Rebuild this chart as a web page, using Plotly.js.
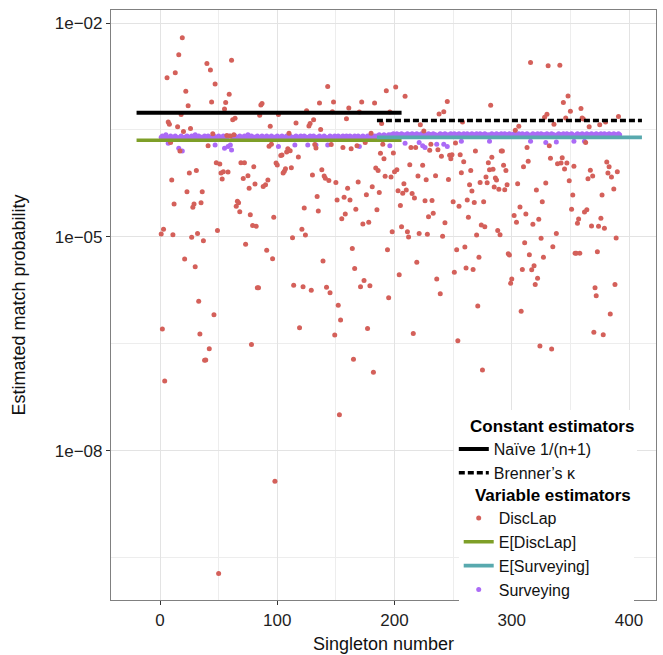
<!DOCTYPE html>
<html>
<head>
<meta charset="utf-8">
<script src="https://cdn.plot.ly/plotly-3.0.1.min.js"></script>
<style>
html, body { margin: 0; padding: 0; background: #ffffff; }
#chart { width: 663px; height: 655px; }
</style>
</head>
<body>
<div id="chart"></div>
<script>
// ---------------- DATA ----------------
// DiscLap estimate per singleton (scattered red points)
const discLapSingleton = [
  19,16,40,43,61,13,6,47,22,59,
  24,44,56,55,18,7,8,62,64,15,
  26,20,45,57,60,63,9,41,17,48,
  51,69,72,31,25,54,52,58,75,10,
  53,71,23,36,76,12,29,28,35,66,
  67,65,153,98,50,
  68,77,3,1,11,27,32,49,37,73,
  21,30,33,46,2,34,42,38,39,4,
  143,87,86,136,148,172,183,161,125,85,
  101,147,170,159,131,128,127,116,94,137,
  189,110,180,95,93,132,133,146,156,163,
  168,175,190,109,111,108,188,104,103,118,
  191,99,100,80,112,107,106,105,138,184,
  186,130,140,141,144,192,92,81,90,88,
  169,150,160,181,187,134,151,157,162,176,
  123,119,149,177,78,165,182,
  97,135,167,158,155,185,79,82,121,124,
  113,173,178,91,96,164,139,166,174,171,
  179,83,84,114,122,129,142,145,152,154,
  193,201,209,245,282,242,238,196,222,258,
  225,306,303,214,218,231,237,230,252,269,
  199,240,247,249,248,256,291,292,283,280,
  259,213,224,293,281,284,295,202,200,265,
  257,197,220,235,246,227,278,286,287,273,
  264,279,208,285,289,294,296,305,203,207,
  210,215,217,266,226,232,250,262,268,276,
  205,255,300,299,239,195,271,216,254,275,
  233,229,263,243,206,198,211,212,221,228,
  241,274,277,270,288,290,302,304,194,253,
  260,219,272,297,298,204,251,261,267,236,
  316,331,341,348,344,359,350,330,328,346,
  360,361,391,336,366,375,380,332,313,363,
  333,343,339,342,347,314,353,345,310,381,
  383,367,369,365,382,385,390,349,329,387,
  321,352,377,326,307,388,308,384,370,378,324,334,
  312,323,318,351,362,364,357,356,376,368,
  374,379,338,325,389,311,335,315,327,354,
  355,358,373,309,319,317,322,320,371,372
];
const discLapProb = [
  6.2e-3,3.6e-3,2.7e-3,2.2e-3,3.0e-3,2.0e-3,1.7e-3,1.4e-3,1.1e-3,1.0e-3,
  6.9e-4,7.8e-4,7.7e-4,6.2e-4,5.2e-4,4.1e-4,3.8e-4,4.4e-4,4.6e-4,3.5e-4,
  3.3e-4,3.0e-4,2.8e-4,2.65e-4,2.6e-4,2.7e-4,2.1e-4,1.9e-4,1.6e-4,1.1e-4,
  1.05e-4,1.1e-4,1.1e-4,8.5e-5,7.9e-5,8.2e-5,7.9e-5,8.1e-5,7.2e-5,6.3e-5,
  6.5e-5,6.6e-5,4.3e-5,4.3e-5,4.8e-5,2.9e-5,2.9e-5,2.6e-5,3.0e-5,3.15e-5,
  3.0e-5,2.7e-5,3.2e-8,3.75e-9,1.9e-10,
  2.25e-5,2.05e-5,1.28e-5,1.1e-5,1.07e-5,9.9e-6,1.12e-5,1.23e-5,8.8e-6,7.9e-6,
  4.9e-6,3.8e-6,1.25e-6,8.1e-7,5.1e-7,4.35e-7,2.7e-7,1.86e-7,1.87e-7,9.5e-8,
  1.29e-3,7.4e-4,7.1e-4,7.55e-4,7.8e-4,7.8e-4,7.55e-4,6.4e-4,5.9e-4,5.1e-4,
  5.2e-4,5.7e-4,5.65e-4,4.55e-4,4.4e-4,3.9e-4,3.6e-4,3.95e-4,3.56e-4,3.2e-4,
  3.9e-4,2.84e-4,2.84e-4,2.0e-4,1.87e-4,1.97e-4,1.77e-4,1.97e-4,1.8e-4,1.72e-4,
  1.9e-4,2.1e-4,2.0e-4,1.72e-4,1.62e-4,1.55e-4,1.49e-4,1.41e-4,1.38e-4,1.32e-4,
  1.25e-4,1.09e-4,1.02e-4,9.6e-5,9.3e-5,9.05e-5,8.3e-5,7.9e-5,8.75e-5,9.25e-5,
  8.5e-5,7.4e-5,7.15e-5,6.65e-5,6.2e-5,7.1e-5,6.3e-5,5.5e-5,5.4e-5,5.1e-5,
  5.9e-5,5.8e-5,4.8e-5,5.05e-5,4.2e-5,3.7e-5,3.3e-5,3.6e-5,3.3e-5,3.9e-5,
  2.55e-5,5.3e-7,4.2e-7,5.2e-7,3.1e-7,1.92e-7,1.26e-7,
  1.88e-5,2.3e-5,2.44e-5,2.1e-5,1.8e-5,2.4e-5,1.44e-5,1.41e-5,1.28e-5,1.06e-5,
  9.75e-6,1.52e-5,1.6e-5,6.5e-6,4.95e-6,6.9e-6,4.6e-6,3.6e-6,2.45e-6,2.0e-6,
  2.07e-6,1.94e-6,1.94e-6,2.1e-6,2.0e-6,1.78e-6,1.97e-6,1.65e-6,1.1e-6,6.8e-7,
  1.12e-3,1.27e-3,9.4e-4,7.9e-4,7.0e-4,5.7e-4,5.3e-4,5.65e-4,3.75e-4,4.1e-4,
  3.05e-4,3.56e-4,3.13e-4,1.8e-4,1.8e-4,2.0e-4,1.67e-4,1.64e-4,2.07e-4,1.6e-4,
  1.5e-4,1.35e-4,1.4e-4,1.42e-4,1.25e-4,1.42e-4,1.6e-4,1.6e-4,1.31e-4,1.1e-4,
  1.13e-4,1.03e-4,1.01e-4,1.01e-4,8.75e-5,8.9e-5,8.5e-5,8.75e-5,8.2e-5,8.5e-5,
  7.95e-5,6.9e-5,7.15e-5,7.2e-5,6.4e-5,6.35e-5,6.9e-5,6.7e-5,6.3e-5,5.8e-5,
  5.4e-5,5.75e-5,5.55e-5,5.0e-5,4.65e-5,4.6e-5,5.4e-5,5.55e-5,4.45e-5,4.1e-5,
  4.55e-5,4.05e-5,3.5e-5,4.4e-5,3.2e-5,3.25e-5,3.1e-5,3.3e-5,3.03e-5,3.1e-5,
  2.75e-5,2.7e-5,2.57e-6,2.23e-6,1.6e-6,1.4e-6,1.07e-6,4.4e-7,3.5e-7,1.36e-7,
  2.15e-5,1.92e-5,1.88e-5,1.58e-5,1.39e-5,1.18e-5,1.18e-5,1.0e-5,1.12e-5,1.09e-5,
  1.02e-5,1.47e-5,1.39e-5,1.06e-5,1.23e-5,1.07e-5,2.0e-5,1.6e-5,6.6e-6,6.6e-6,
  7.2e-6,4.4e-6,5.2e-6,5.8e-6,5.55e-6,2.95e-6,3.2e-6,3.65e-6,3.5e-6,2.57e-6,
  2.8e-3,2.52e-3,2.55e-3,9.5e-4,7.7e-4,6.3e-4,5.8e-4,5.24e-4,4.75e-4,4.65e-4,
  4.65e-4,4.5e-4,4.9e-4,3.8e-4,3.5e-4,3.75e-4,4.1e-4,1.9e-4,1.8e-4,2.1e-4,
  1.27e-4,1.29e-4,1.06e-4,1.09e-4,1.09e-4,1.15e-4,9.8e-5,8.95e-5,9.65e-5,1.12e-4,
  9.65e-5,8.6e-5,7.15e-5,6.55e-5,7.9e-5,6.9e-5,8.2e-5,6.15e-5,5.7e-5,4.7e-5,
  4.55e-5,3.87e-5,3.87e-5,3.1e-5,2.63e-5,2.15e-6,9.05e-7,8.3e-7,4.6e-7,4.25e-7,2.95e-7,2.67e-7,
  2.1e-5,1.77e-5,1.5e-5,2.45e-5,2.23e-5,2.4e-5,1.78e-5,1.55e-5,1.82e-5,1.42e-5,
  1.41e-5,1.32e-5,1.12e-5,9.6e-6,9.65e-6,8.3e-6,7.3e-6,5.6e-6,5.2e-6,5.9e-6,
  5.9e-6,5.9e-6,6.2e-6,3.5e-6,3.95e-6,3.45e-6,2.63e-6,2.15e-6,1.94e-6,1.5e-6
];

// Surveying estimate for singletons 1..392 (dense purple band)
const surveyingProb = [
  2.5e-4,2.6e-4,2.4e-4,2.5e-4,2.7e-4,2.4e-4,2.05e-4,2.5e-4,2.6e-4,2.4e-4,2.5e-4,2.35e-4,2.6e-4,2.5e-4,2.4e-4,1.75e-4,2.5e-4,2.6e-4,1.6e-4,2.4e-4,
  2.5e-4,2.4e-4,2.6e-4,2.5e-4,2.35e-4,2.5e-4,2.6e-4,2.4e-4,2.5e-4,2.7e-4,2.4e-4,2.5e-4,2.6e-4,2.4e-4,2.5e-4,2.5e-4,2.35e-4,2.6e-4,2.4e-4,2.5e-4,
  2.6e-4,2.4e-4,2.5e-4,2.5e-4,2.4e-4,2.6e-4,1.95e-4,2.5e-4,2.4e-4,2.6e-4,2.5e-4,2.4e-4,2.5e-4,2.6e-4,1.75e-4,2.4e-4,2.5e-4,1.85e-4,2.6e-4,1.95e-4,
  1.65e-4,2.5e-4,2.4e-4,2.6e-4,2.5e-4,2.4e-4,2.5e-4,2.6e-4,2.4e-4,2.5e-4,2.5e-4,2.6e-4,2.4e-4,2.5e-4,2.7e-4,2.4e-4,2.5e-4,2.6e-4,2.4e-4,2.5e-4,
  2.5e-4,2.4e-4,2.6e-4,2.5e-4,2.4e-4,2.5e-4,2.6e-4,2.35e-4,2.5e-4,2.4e-4,2.6e-4,2.5e-4,2.4e-4,2.5e-4,2.6e-4,2.4e-4,2.5e-4,2.5e-4,2.4e-4,2.6e-4,
  1.85e-4,2.5e-4,2.4e-4,2.6e-4,2.5e-4,2.4e-4,2.5e-4,2.6e-4,2.5e-4,2.4e-4,2.6e-4,2.5e-4,2.4e-4,2.5e-4,1.95e-4,2.6e-4,2.4e-4,2.5e-4,2.5e-4,2.6e-4,
  2.4e-4,2.5e-4,2.6e-4,2.4e-4,2.5e-4,1.95e-4,2.5e-4,2.6e-4,2.4e-4,2.5e-4,2.6e-4,2.4e-4,1.95e-4,2.5e-4,2.4e-4,2.6e-4,2.5e-4,2.4e-4,2.5e-4,2.6e-4,
  2.5e-4,2.4e-4,1.95e-4,2.5e-4,2.6e-4,2.4e-4,2.5e-4,2.5e-4,2.6e-4,2.4e-4,2.5e-4,2.6e-4,2.4e-4,2.5e-4,2.5e-4,2.6e-4,2.4e-4,2.5e-4,2.6e-4,2.4e-4,
  2.5e-4,2.6e-4,2.4e-4,2.5e-4,2.5e-4,2.6e-4,2.4e-4,2.5e-4,2.6e-4,1.85e-4,2.5e-4,2.4e-4,2.6e-4,2.5e-4,2.4e-4,2.5e-4,2.6e-4,2.4e-4,2.5e-4,2.6e-4,
  2.5e-4,2.4e-4,2.6e-4,2.5e-4,2.6e-4,2.5e-4,2.7e-4,2.6e-4,2.5e-4,2.6e-4,2.7e-4,2.6e-4,2.5e-4,2.6e-4,2.7e-4,1.9e-4,2.7e-4,2.6e-4,2.8e-4,2.7e-4,
  2.7e-4,2.8e-4,2.6e-4,2.7e-4,2.7e-4,2.8e-4,2.6e-4,2.7e-4,2.05e-4,2.7e-4,2.8e-4,2.6e-4,2.7e-4,2.7e-4,2.8e-4,2.6e-4,2.7e-4,2.7e-4,2.8e-4,2.6e-4,
  2.1e-4,2.7e-4,2.8e-4,1.9e-4,2.7e-4,1.8e-4,2.7e-4,2.6e-4,2.8e-4,2.7e-4,2.7e-4,2.6e-4,2.8e-4,2.7e-4,2.7e-4,2.0e-4,2.6e-4,2.7e-4,2.8e-4,2.7e-4,
  2.7e-4,2.0e-4,2.8e-4,2.7e-4,1.85e-4,2.7e-4,2.6e-4,2.8e-4,2.7e-4,2.7e-4,2.8e-4,2.6e-4,2.7e-4,2.7e-4,2.8e-4,2.7e-4,2.2e-4,2.7e-4,2.8e-4,2.6e-4,
  2.7e-4,2.8e-4,2.7e-4,2.6e-4,2.7e-4,2.8e-4,2.7e-4,2.7e-4,2.6e-4,2.8e-4,2.7e-4,2.7e-4,2.8e-4,2.6e-4,2.7e-4,2.7e-4,2.8e-4,2.7e-4,2.6e-4,2.7e-4,
  2.2e-4,2.7e-4,2.8e-4,2.7e-4,2.6e-4,2.7e-4,2.8e-4,2.7e-4,2.7e-4,2.6e-4,2.8e-4,2.7e-4,2.7e-4,2.8e-4,2.6e-4,2.7e-4,2.7e-4,2.8e-4,2.7e-4,2.6e-4,
  2.7e-4,2.8e-4,2.7e-4,2.7e-4,2.6e-4,2.8e-4,2.7e-4,2.7e-4,2.8e-4,2.6e-4,2.7e-4,2.7e-4,2.8e-4,2.7e-4,2.6e-4,2.2e-4,2.7e-4,2.8e-4,2.7e-4,2.7e-4,
  2.6e-4,2.8e-4,2.7e-4,2.7e-4,2.8e-4,2.6e-4,2.7e-4,2.7e-4,2.1e-4,2.8e-4,2.7e-4,2.6e-4,2.7e-4,2.8e-4,2.7e-4,2.7e-4,2.6e-4,2.15e-4,2.7e-4,2.8e-4,
  2.7e-4,2.7e-4,2.6e-4,2.8e-4,2.7e-4,2.7e-4,2.8e-4,2.6e-4,2.7e-4,2.7e-4,2.8e-4,2.7e-4,2.2e-4,2.6e-4,2.7e-4,2.8e-4,2.7e-4,2.7e-4,2.6e-4,2.8e-4,
  2.7e-4,2.2e-4,2.7e-4,2.8e-4,2.6e-4,2.7e-4,2.7e-4,2.8e-4,2.7e-4,2.6e-4,2.7e-4,2.8e-4,2.7e-4,2.7e-4,2.6e-4,2.8e-4,2.7e-4,2.7e-4,2.8e-4,2.6e-4,
  2.7e-4,2.7e-4,2.8e-4,2.6e-4,2.7e-4,2.7e-4,2.8e-4,2.7e-4,2.6e-4,2.7e-4,2.8e-4,2.7e-4
];

// Expected values (constant over each half of the singletons)
const eDiscLapValue = 2.26e-4;
const eSurveyingValue = 2.49e-4;
// Constant estimators
const naiveValue = 5.52e-4;     // 1/(n+1)
const brennerValue = 4.3e-4;    // Brenner's kappa
// Horizontal extents (singleton number) of the two groups of reference lines
const firstSpan = [-20, 206];
const secondSpan = [185, 411];

// Axis ticks
const xTicks = [0, 100, 200, 300, 400];
const xMinorTicks = [50, 150, 250, 350];
const yTicks = [1e-2, 1e-5, 1e-8];
const yTickText = ['1e\u221202', '1e\u221205', '1e\u221208'];
const yMinorTicks = [3.1623e-4, 3.1623e-7, 3.1623e-10];

// ---------------- CHART ----------------
const surveyingSingleton = surveyingProb.map((_, i) => i + 1);

const colRed = '#D4605A';
const colGreen = '#7E9F28';
const colTeal = '#58A9AE';
const colPurple = '#AB6BF6';

const traces = [
  {
    type: 'scatter', mode: 'markers', name: 'Surveying',
    x: surveyingSingleton, y: surveyingProb,
    marker: { color: colPurple, size: 5 },
    legend: 'legend2', legendrank: 4
  },
  {
    type: 'scatter', mode: 'markers', name: 'DiscLap',
    x: discLapSingleton, y: discLapProb,
    marker: { color: colRed, size: 5 },
    legend: 'legend2', legendrank: 1
  },
  {
    type: 'scatter', mode: 'lines', name: 'E[DiscLap]',
    x: firstSpan, y: [eDiscLapValue, eDiscLapValue],
    line: { color: colGreen, width: 3.5 },
    legend: 'legend2', legendrank: 2
  },
  {
    type: 'scatter', mode: 'lines', name: 'E[Surveying]',
    x: secondSpan, y: [eSurveyingValue, eSurveyingValue],
    line: { color: colTeal, width: 3.8 },
    legend: 'legend2', legendrank: 3
  },
  {
    type: 'scatter', mode: 'lines', name: 'Naïve 1/(n+1)',
    x: firstSpan, y: [naiveValue, naiveValue],
    line: { color: '#000000', width: 4 },
    legend: 'legend', legendrank: 1
  },
  {
    type: 'scatter', mode: 'lines', name: 'Brenner\u2019s \u03BA',
    x: secondSpan, y: [brennerValue, brennerValue],
    line: { color: '#000000', width: 3.5, dash: '6px,3px' },
    legend: 'legend', legendrank: 2
  }
];

const axisCommon = {
  ticks: 'outside', ticklen: 4, tickwidth: 1, tickcolor: '#333333',
  showgrid: true, gridcolor: '#E3E3E3', gridwidth: 1.1,
  zeroline: false, showline: true, mirror: true,
  linecolor: '#808080', linewidth: 1.2,
  tickfont: { size: 17, color: '#1e1e1e' },
  automargin: false
};

const layout = {
  width: 663, height: 655,
  margin: { l: 111, r: 7, t: 10, b: 55 },
  paper_bgcolor: '#ffffff', plot_bgcolor: '#ffffff',
  font: { family: 'Liberation Sans, Arial, Helvetica, sans-serif', size: 17, color: '#111111' },
  showlegend: true,
  xaxis: Object.assign({}, axisCommon, {
    range: [-41.8, 423],
    tickmode: 'array', tickvals: xTicks,
    minor: { tickmode: 'array', tickvals: xMinorTicks, showgrid: true, gridcolor: '#EDEDED', gridwidth: 0.7, ticks: '' },
    title: { text: 'Singleton number', font: { size: 18, color: '#111111' }, standoff: 8 }
  }),
  yaxis: Object.assign({}, axisCommon, {
    type: 'log',
    range: [-10.093, -1.8177],
    tickmode: 'array', tickvals: yTicks, ticktext: yTickText,
    minor: { tickmode: 'array', tickvals: yMinorTicks, showgrid: true, gridcolor: '#EDEDED', gridwidth: 0.7, ticks: '' },
    title: { text: 'Estimated match probability', font: { size: 18, color: '#111111' }, standoff: 24 }
  }),
  legend: {
    x: 0.629, y: 0.322, xanchor: 'left', yanchor: 'top',
    bgcolor: '#ffffff', borderwidth: 0,
    title: { text: '\u00A0\u00A0\u00A0Constant estimators', font: { size: 17, weight: 'bold', color: '#000000' } },
    font: { size: 16, color: '#111111' },
    itemwidth: 30, traceorder: 'normal'
  },
  legend2: {
    x: 0.638, y: 0.205, xanchor: 'left', yanchor: 'top',
    bgcolor: '#ffffff', borderwidth: 0,
    title: { text: '\u00A0\u00A0\u00A0Variable estimators', font: { size: 17, weight: 'bold', color: '#000000' } },
    font: { size: 16, color: '#111111' },
    itemwidth: 30, traceorder: 'normal'
  }
};

Plotly.newPlot('chart', traces, layout, { displayModeBar: false, responsive: false });
</script>
</body>
</html>
